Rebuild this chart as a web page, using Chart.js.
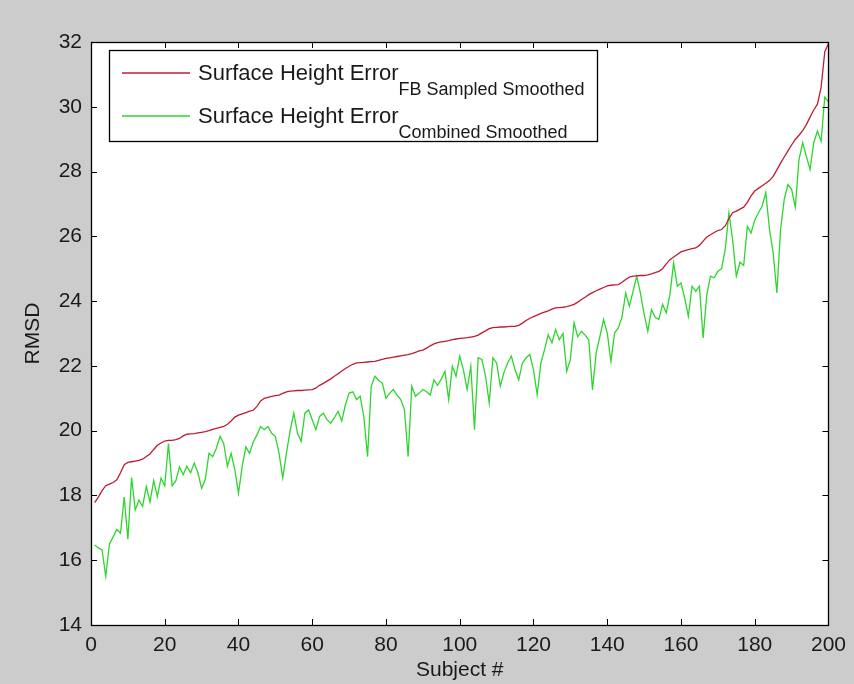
<!DOCTYPE html>
<html>
<head>
<meta charset="utf-8">
<title>RMSD per subject</title>
<script src="https://cdn.jsdelivr.net/npm/chart.js@4.4.1/dist/chart.umd.min.js"></script>
<style>
  html, body { margin: 0; padding: 0; background: #cccccc; }
  canvas { display: block; }
</style>
</head>
<body>
<canvas id="rmsdChart" width="854" height="684"></canvas>
<script>
// tick positions on both axes
const xTickValues = [0, 20, 40, 60, 80, 100, 120, 140, 160, 180, 200];
const yTickValues = [14, 16, 18, 20, 22, 24, 26, 28, 30, 32];

// subject numbers 1..200
const subjects = Array.from({ length: 200 }, (_, i) => i + 1);

// RMSD, FB sampled smoothed (sorted, red)
const fbSampled = [
  17.78, 17.95, 18.15, 18.30, 18.35, 18.40, 18.48, 18.70, 18.95, 19.02,
  19.04, 19.06, 19.08, 19.12, 19.20, 19.28, 19.42, 19.55, 19.62, 19.68,
  19.70, 19.70, 19.72, 19.76, 19.84, 19.89, 19.90, 19.91, 19.93, 19.95,
  19.97, 20.00, 20.04, 20.07, 20.10, 20.13, 20.20, 20.30, 20.42, 20.48,
  20.52, 20.56, 20.60, 20.63, 20.75, 20.92, 21.00, 21.03, 21.06, 21.08,
  21.10, 21.15, 21.20, 21.22, 21.23, 21.24, 21.24, 21.25, 21.26, 21.27,
  21.32, 21.40, 21.46, 21.53, 21.60, 21.68, 21.76, 21.84, 21.92, 21.99,
  22.05, 22.09, 22.10, 22.11, 22.12, 22.13, 22.14, 22.17, 22.20, 22.23,
  22.25, 22.27, 22.29, 22.31, 22.33, 22.35, 22.38, 22.42, 22.46, 22.49,
  22.55, 22.62, 22.68, 22.72, 22.74, 22.76, 22.78, 22.81, 22.83, 22.85,
  22.86, 22.87, 22.89, 22.91, 22.95, 23.02, 23.08, 23.15, 23.18, 23.19,
  23.20, 23.20, 23.21, 23.22, 23.22, 23.25, 23.32, 23.40, 23.47, 23.52,
  23.57, 23.62, 23.66, 23.70, 23.75, 23.79, 23.80, 23.81, 23.83, 23.86,
  23.90, 23.97, 24.05, 24.12, 24.20, 24.26, 24.32, 24.37, 24.42, 24.47,
  24.49, 24.50, 24.51, 24.58, 24.67, 24.74, 24.77, 24.78, 24.79, 24.79,
  24.81, 24.84, 24.88, 24.92, 25.00, 25.15, 25.28, 25.36, 25.44, 25.52,
  25.56, 25.59, 25.62, 25.64, 25.72, 25.85, 25.98, 26.05, 26.12, 26.18,
  26.21, 26.32, 26.55, 26.73, 26.78, 26.84, 26.90, 27.05, 27.25, 27.40,
  27.48, 27.56, 27.64, 27.72, 27.85, 28.05, 28.26, 28.45, 28.64, 28.82,
  28.99, 29.12, 29.26, 29.45, 29.68, 29.90, 30.08, 30.60, 31.70, 31.95
];

// RMSD, combined smoothed (green)
const combined = [
  16.47, 16.38, 16.32, 15.50, 16.50, 16.72, 16.95, 16.84, 17.95, 16.65,
  18.55, 17.55, 17.86, 17.66, 18.28, 17.80, 18.46, 17.96, 18.54, 18.30,
  19.60, 18.30, 18.45, 18.88, 18.64, 18.90, 18.70, 19.00, 18.70, 18.22,
  18.50, 19.30, 19.20, 19.46, 19.82, 19.60, 18.90, 19.30, 18.80, 18.07,
  18.90, 19.50, 19.30, 19.65, 19.87, 20.13, 20.03, 20.13, 19.92, 19.82,
  19.30, 18.54, 19.30, 20.00, 20.54, 19.92, 19.67, 20.54, 20.64, 20.34,
  20.03, 20.44, 20.54, 20.34, 20.23, 20.40, 20.60, 20.30, 20.80, 21.16,
  21.20, 20.96, 21.06, 20.43, 19.20, 21.37, 21.68, 21.55, 21.47, 21.00,
  21.16, 21.27, 21.10, 20.96, 20.65, 19.20, 21.37, 21.06, 21.16, 21.27,
  21.20, 21.10, 21.57, 21.40, 21.60, 21.83, 20.96, 21.99, 21.68, 22.30,
  21.88, 21.27, 21.99, 20.03, 22.25, 22.20, 21.68, 20.85, 22.25, 22.09,
  21.37, 21.80, 22.09, 22.30, 21.88, 21.57, 22.09, 22.25, 22.35, 21.88,
  21.11, 22.09, 22.50, 22.96, 22.71, 23.12, 22.81, 23.00, 21.83, 22.20,
  23.33, 22.90, 23.07, 22.95, 22.80, 21.26, 22.40, 22.90, 23.43, 23.02,
  22.14, 23.02, 23.17, 23.50, 24.25, 23.84, 24.30, 24.77, 24.25, 23.60,
  23.07, 23.74, 23.50, 23.43, 23.90, 23.64, 24.20, 25.18, 24.46, 24.56,
  24.10, 23.53, 24.46, 24.30, 24.46, 22.86, 24.20, 24.77, 24.72, 24.92,
  25.00, 25.60, 26.73, 25.90, 24.77, 25.20, 25.10, 26.31, 26.10, 26.50,
  26.73, 26.93, 27.35, 26.21, 25.49, 24.25, 26.21, 27.14, 27.60, 27.45,
  26.90, 28.37, 28.89, 28.47, 28.06, 28.89, 29.25, 28.94, 30.30, 30.15
];

// legend text: main part + subscript
const legendMain = ['Surface Height Error', 'Surface Height Error'];
const legendSub = ['FB Sampled Smoothed', 'Combined Smoothed'];

const FONT = "'Liberation Sans', Arial, Helvetica, sans-serif";
Chart.defaults.font.family = FONT;
Chart.defaults.font.size = 21;
Chart.defaults.color = '#1a1a1a';

function toPoints(values) {
  return values.map((v, i) => ({ x: subjects[i], y: v }));
}

// gray figure, white axes, box with inward ticks, tex-style legend
const matlabFrame = {
  id: 'matlabFrame',
  beforeDraw(chart) {
    const { ctx, chartArea: ca } = chart;
    ctx.save();
    ctx.fillStyle = '#cccccc';
    ctx.fillRect(0, 0, chart.width, chart.height);
    ctx.fillStyle = '#ffffff';
    ctx.fillRect(ca.left, ca.top, ca.right - ca.left, ca.bottom - ca.top);
    ctx.restore();
  },
  afterDatasetsDraw(chart) {
    const { ctx, chartArea: ca, scales } = chart;
    const tick = 6;
    ctx.save();
    ctx.strokeStyle = '#000000';
    ctx.lineWidth = 1;
    ctx.beginPath();
    scales.x.ticks.forEach(t => {
      const px = Math.round(scales.x.getPixelForValue(t.value)) + 0.5;
      ctx.moveTo(px, ca.bottom); ctx.lineTo(px, ca.bottom - tick);
      ctx.moveTo(px, ca.top); ctx.lineTo(px, ca.top + tick);
    });
    scales.y.ticks.forEach(t => {
      const py = Math.round(scales.y.getPixelForValue(t.value)) + 0.5;
      ctx.moveTo(ca.left, py); ctx.lineTo(ca.left + tick, py);
      ctx.moveTo(ca.right, py); ctx.lineTo(ca.right - tick, py);
    });
    ctx.stroke();
    ctx.lineWidth = 1.3;
    ctx.strokeRect(Math.round(ca.left) + 0.5, Math.round(ca.top) + 0.5,
      Math.round(ca.right - ca.left), Math.round(ca.bottom - ca.top));

    // legend
    const mainFont = '22px ' + FONT;
    const subFont = '18px ' + FONT;
    const bx = ca.left + 18, by = ca.top + 8;
    const textX = bx + 89;
    let maxRight = 0;
    legendMain.forEach((m, i) => {
      ctx.font = mainFont;
      const w1 = ctx.measureText(m).width;
      ctx.font = subFont;
      const w2 = ctx.measureText(legendSub[i]).width;
      maxRight = Math.max(maxRight, textX + w1 + w2);
    });
    const bw = Math.round(maxRight + 12 - bx), bh = 91;
    ctx.fillStyle = '#ffffff';
    ctx.fillRect(bx, by, bw, bh);
    ctx.lineWidth = 1.3;
    ctx.strokeRect(Math.round(bx) + 0.5, Math.round(by) + 0.5, bw, bh);

    chart.data.datasets.forEach((ds, i) => {
      const rowY = by + 23 + i * 43;
      ctx.strokeStyle = ds.borderColor;
      ctx.lineWidth = 1.5;
      ctx.beginPath();
      ctx.moveTo(bx + 13, rowY);
      ctx.lineTo(bx + 81, rowY);
      ctx.stroke();

      ctx.fillStyle = '#1a1a1a';
      ctx.textAlign = 'left';
      ctx.textBaseline = 'alphabetic';
      ctx.font = mainFont;
      ctx.fillText(legendMain[i], textX, rowY + 7);
      const w1 = ctx.measureText(legendMain[i]).width;
      ctx.font = subFont;
      ctx.fillText(legendSub[i], textX + w1, rowY + 22);
    });
    ctx.restore();
  }
};

const ctx = document.getElementById('rmsdChart').getContext('2d');
new Chart(ctx, {
  type: 'line',
  data: {
    datasets: [{
      label: legendMain[0] + ' ' + legendSub[0],
      data: toPoints(fbSampled),
      borderColor: '#c01c30',
      borderWidth: 1.3,
      pointRadius: 0,
      tension: 0,
      fill: false
    }, {
      label: legendMain[1] + ' ' + legendSub[1],
      data: toPoints(combined),
      borderColor: '#2cd62c',
      borderWidth: 1.3,
      pointRadius: 0,
      tension: 0,
      fill: false
    }]
  },
  options: {
    responsive: false,
    animation: false,
    events: [],
    layout: { padding: { left: 0, top: 42, right: 24, bottom: 0 } },
    plugins: {
      legend: { display: false },
      tooltip: { enabled: false },
      title: { display: false }
    },
    scales: {
      x: {
        type: 'linear',
        min: 0,
        max: 200,
        afterBuildTicks: scale => { scale.ticks = xTickValues.map(v => ({ value: v })); },
        afterFit: scale => { scale.height = 59; },
        grid: { display: false, drawTicks: false },
        border: { display: false },
        ticks: { padding: 8, maxRotation: 0, autoSkip: false },
        title: { display: true, text: 'Subject #', font: { size: 21 }, padding: { top: 0, bottom: 1 } }
      },
      y: {
        min: 14,
        max: 32,
        afterBuildTicks: scale => { scale.ticks = yTickValues.map(v => ({ value: v })); },
        afterFit: scale => { scale.width = 91; },
        grid: { display: false, drawTicks: false },
        border: { display: false },
        ticks: { padding: 9, autoSkip: false },
        title: { display: true, text: 'RMSD', font: { size: 21 }, padding: { top: 21, bottom: 0 } }
      }
    }
  },
  plugins: [matlabFrame]
});
</script>
</body>
</html>
